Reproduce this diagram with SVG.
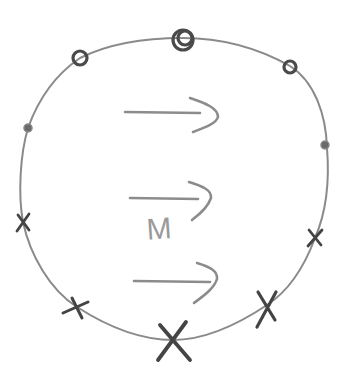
<svg xmlns="http://www.w3.org/2000/svg" width="346" height="376" viewBox="0 0 346 376">
<style>
.ring{fill:none;stroke:#8a8a8a;stroke-width:2;stroke-linecap:round}
.dot{fill:none;stroke:#4a4a4a;stroke-width:3.2}
.blob{fill:#6a6a6a;stroke:#888;stroke-width:1.5}
.x{stroke:#444;stroke-linecap:round;fill:none}
.arr{fill:none;stroke:#8c8c8c;stroke-width:2.6;stroke-linecap:round;stroke-linejoin:round}
.lbl{font-family:"Liberation Sans",Arial,sans-serif;font-size:30px;fill:#9a9a9a}
</style>
<rect width="346" height="376" fill="#ffffff"/>
<g id="connectors">
<path class="ring" d="M183,38 C230,38 265,52 290,66 C315,82 326,115 327,148 C330,185 325,215 315,238 C305,265 290,290 267,305 C240,323 205,340 173,340 C140,340 105,325 77,307 C50,290 30,255 23,222 C18,195 20,155 28,128 C38,100 55,75 80,58 C110,43 145,38 183,38 Z"/>
</g>
<g id="flow">
<g id="arrow1"><path class="arr" d="M125,112 L200,113"/><path class="arr" d="M190,98 C205,103 218,108 218,117 C216,124 203,128 193,132"/></g>
<g id="arrow2"><path class="arr" d="M130,198 L198,199"/><path class="arr" d="M189,182 C202,186 212,190 211,198 C208,207 200,214 192,220"/></g>
<g id="arrow3"><path class="arr" d="M134,281 L210,282"/><path class="arr" d="M197,263 C210,267 218,271 217,279 C214,289 202,297 194,303"/></g>
<g id="label-m"><text class="lbl" x="159" y="239" text-anchor="middle" transform="rotate(-4 159 228)">M</text></g>
</g>
<g id="n-top"><circle class="dot" cx="183" cy="40" r="10"/><circle class="dot" cx="185" cy="38" r="7" stroke-width="2.4"/></g>
<g id="n-topleft"><circle class="dot" cx="80" cy="58" r="7"/></g>
<g id="n-topright"><circle class="dot" cx="290" cy="67" r="6"/></g>
<g id="n-left"><circle class="blob" cx="28" cy="128" r="4"/></g>
<g id="n-right"><circle class="blob" cx="325" cy="145" r="4"/></g>
<g id="x-left"><path class="x" stroke-width="2.8" d="M18,215 L29,230 M29,214 L17,231"/></g>
<g id="x-right"><path class="x" stroke-width="2.8" d="M309,230 L321,245 M322,230 L308,246"/></g>
<g id="x-bottomleft"><path class="x" stroke-width="3" d="M72,298 L82,318 M63,313 L88,302"/></g>
<g id="x-bottom"><path class="x" stroke-width="3.8" d="M160,325 L190,360 M186,322 L158,360"/></g>
<g id="x-bottomright"><path class="x" stroke-width="3.2" d="M258,292 L275,320 M276,292 L257,327"/></g>
</svg>
